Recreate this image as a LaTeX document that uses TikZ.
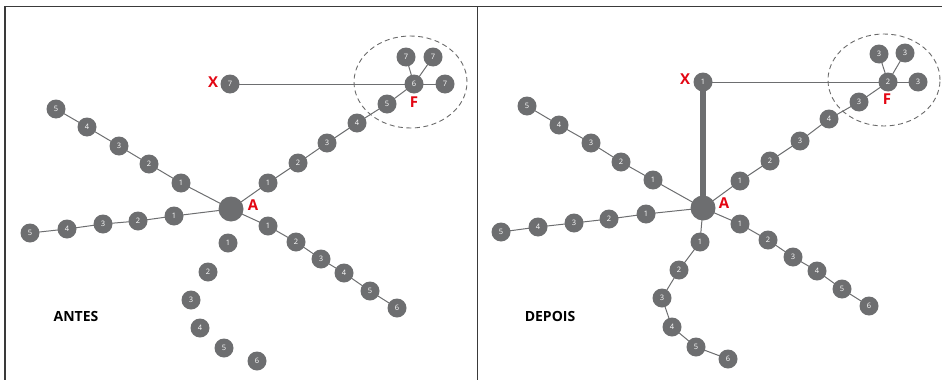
\documentclass[tikz,border=0pt]{standalone}
\usepackage{fontspec}
\setmainfont{Open Sans}
\usetikzlibrary{shapes.geometric,backgrounds}
\begin{document}
\begin{tikzpicture}[x=1pt,y=-1pt,
  vtx/.style={circle,fill=ngray,text=white,minimum size=19pt,inner sep=0pt,font=\fontsize{7.5}{8}\selectfont},
  hub/.style={circle,fill=ngray,minimum size=25pt,inner sep=0pt},
  edge/.style={draw=lgray,line width=1pt},
  thick edge/.style={draw=ngray,line width=6pt},
  redlab/.style={text=lred,font=\fontsize{15}{16}\selectfont\bfseries,inner sep=0pt},
  title/.style={text=black,font=\fontsize{14}{15}\selectfont\bfseries,inner sep=0pt},
  ring/.style={draw=dgray,dash pattern=on 5pt off 3.5pt,line width=0.9pt},
  frame/.style={draw=fgray,line width=1.5pt}]
\definecolor{ngray}{HTML}{6D6E70}
\definecolor{lgray}{HTML}{6D6E70}
\definecolor{dgray}{HTML}{6A6A6A}
\definecolor{fgray}{HTML}{3A3A3A}
\definecolor{lred}{HTML}{E30613}
\useasboundingbox (0,0) rectangle (942,380);
% frame
\draw[frame] (5,380) -- (5,6.5) -- (942,6.5);
\draw[frame] (477.5,6.5) -- (477.5,380);

% ===== LEFT PANEL (ANTES) =====
\node[hub] (LA) at (231,209) {};
\node[vtx] (Lu1) at (181,183) {1};
\node[vtx] (Lu2) at (149,164) {2};
\node[vtx] (Lu3) at (119,146) {3};
\node[vtx] (Lu4) at (87,127) {4};
\node[vtx] (Lu5) at (56,109) {5};
\node[vtx] (Ll1) at (174,216) {1};
\node[vtx] (Ll2) at (138,221) {2};
\node[vtx] (Ll3) at (103,224) {3};
\node[vtx] (Ll4) at (67,229) {4};
\node[vtx] (Ll5) at (30,233) {5};
\node[vtx] (Lr1) at (268,226) {1};
\node[vtx] (Lr2) at (296,242) {2};
\node[vtx] (Lr3) at (321,259) {3};
\node[vtx] (Lr4) at (344,273) {4};
\node[vtx] (Lr5) at (370,291) {5};
\node[vtx] (Lr6) at (397,308) {6};
\node[vtx] (Ld1) at (228,243) {1};
\node[vtx] (Ld2) at (208,272) {2};
\node[vtx] (Ld3) at (191,300) {3};
\node[vtx] (Ld4) at (200,328) {4};
\node[vtx] (Ld5) at (224,348) {5};
\node[vtx] (Ld6) at (257,361) {6};
\node[vtx] (Le1) at (268,183) {1};
\node[vtx] (Le2) at (298,163) {2};
\node[vtx] (Le3) at (327,143) {3};
\node[vtx] (Le4) at (357,123) {4};
\node[vtx] (Le5) at (387,104) {5};
\node[vtx] (LF) at (414,84) {6};
\node[vtx] (Lf1) at (406,57) {7};
\node[vtx] (Lf2) at (433,57) {7};
\node[vtx] (Lf3) at (445,84) {7};
\node[vtx] (LX) at (230,84) {7};
\node[redlab] (LXl) at (213,82) {X};
\node[redlab] (LFl) at (414,102) {F};
\node[redlab] (LAl) at (253,205) {A};
\node[title] (LT) at (76,316) {ANTES};
\node[ring,ellipse,minimum width=113pt,minimum height=92pt,inner sep=0pt] (Lring) at (410.5,82) {};

% ===== RIGHT PANEL (DEPOIS) =====
\node[hub] (RA) at (703,208) {};
\node[vtx] (Ru1) at (653,180) {1};
\node[vtx] (Ru2) at (621,162) {2};
\node[vtx] (Ru3) at (591,143) {3};
\node[vtx] (Ru4) at (559,125) {4};
\node[vtx] (Ru5) at (527,106) {5};
\node[vtx] (Rl1) at (646,214) {1};
\node[vtx] (Rl2) at (609,219) {2};
\node[vtx] (Rl3) at (574,223) {3};
\node[vtx] (Rl4) at (538,227) {4};
\node[vtx] (Rl5) at (501,232) {5};
\node[vtx] (Rr1) at (740,224) {1};
\node[vtx] (Rr2) at (768,240) {2};
\node[vtx] (Rr3) at (793,257) {3};
\node[vtx] (Rr4) at (817,271) {4};
\node[vtx] (Rr5) at (842,289) {5};
\node[vtx] (Rr6) at (869,306) {6};
\node[vtx] (Rd1) at (700,242) {1};
\node[vtx] (Rd2) at (679,270) {2};
\node[vtx] (Rd3) at (662,298) {3};
\node[vtx] (Rd4) at (672,327) {4};
\node[vtx] (Rd5) at (696,347) {5};
\node[vtx] (Rd6) at (728,359) {6};
\node[vtx] (Re1) at (740,181) {1};
\node[vtx] (Re2) at (770,161) {2};
\node[vtx] (Re3) at (800,141) {3};
\node[vtx] (Re4) at (829,119) {4};
\node[vtx] (Re5) at (859,102) {3};
\node[vtx] (RF) at (888,82) {2};
\node[vtx] (Rf1) at (879,54) {3};
\node[vtx] (Rf2) at (905,53) {3};
\node[vtx] (Rf3) at (918,82) {3};
\node[vtx] (RX) at (703,82) {1};
\node[redlab] (RXl) at (685,79) {X};
\node[redlab] (RFl) at (887,99) {F};
\node[redlab] (RAl) at (724,203) {A};
\node[title] (RT) at (550,316) {DEPOIS};
\node[ring,ellipse,minimum width=112pt,minimum height=92pt,inner sep=0pt] (Rring) at (884,80) {};

\begin{scope}[on background layer]
\path[edge] (LA.center) -- (Lu1.center) -- (Lu2.center) -- (Lu3.center) -- (Lu4.center) -- (Lu5.center);
\path[edge] (LA.center) -- (Ll1.center) -- (Ll2.center) -- (Ll3.center) -- (Ll4.center) -- (Ll5.center);
\path[edge] (LA.center) -- (Lr1.center) -- (Lr2.center) -- (Lr3.center) -- (Lr4.center) -- (Lr5.center) -- (Lr6.center);
\path[edge] (LA.center) -- (Le1.center) -- (Le2.center) -- (Le3.center) -- (Le4.center) -- (Le5.center) -- (LF.center);
\path[edge] (LF.center) -- (Lf1.center);
\path[edge] (LF.center) -- (Lf2.center);
\path[edge] (LF.center) -- (Lf3.center);
\path[edge] (LX.center) -- (LF.center);
\path[edge] (RA.center) -- (Ru1.center) -- (Ru2.center) -- (Ru3.center) -- (Ru4.center) -- (Ru5.center);
\path[edge] (RA.center) -- (Rl1.center) -- (Rl2.center) -- (Rl3.center) -- (Rl4.center) -- (Rl5.center);
\path[edge] (RA.center) -- (Rr1.center) -- (Rr2.center) -- (Rr3.center) -- (Rr4.center) -- (Rr5.center) -- (Rr6.center);
\path[edge] (RA.center) -- (Rd1.center) -- (Rd2.center) -- (Rd3.center) -- (Rd4.center) -- (Rd5.center) -- (Rd6.center);
\path[edge] (RA.center) -- (Re1.center) -- (Re2.center) -- (Re3.center) -- (Re4.center) -- (Re5.center) -- (RF.center);
\path[edge] (RF.center) -- (Rf1.center);
\path[edge] (RF.center) -- (Rf2.center);
\path[edge] (RF.center) -- (Rf3.center);
\path[edge] (RX.center) -- (RF.center);
\path[thick edge] (RX.center) -- (RA.center);
\end{scope}
\end{tikzpicture}
\end{document}
